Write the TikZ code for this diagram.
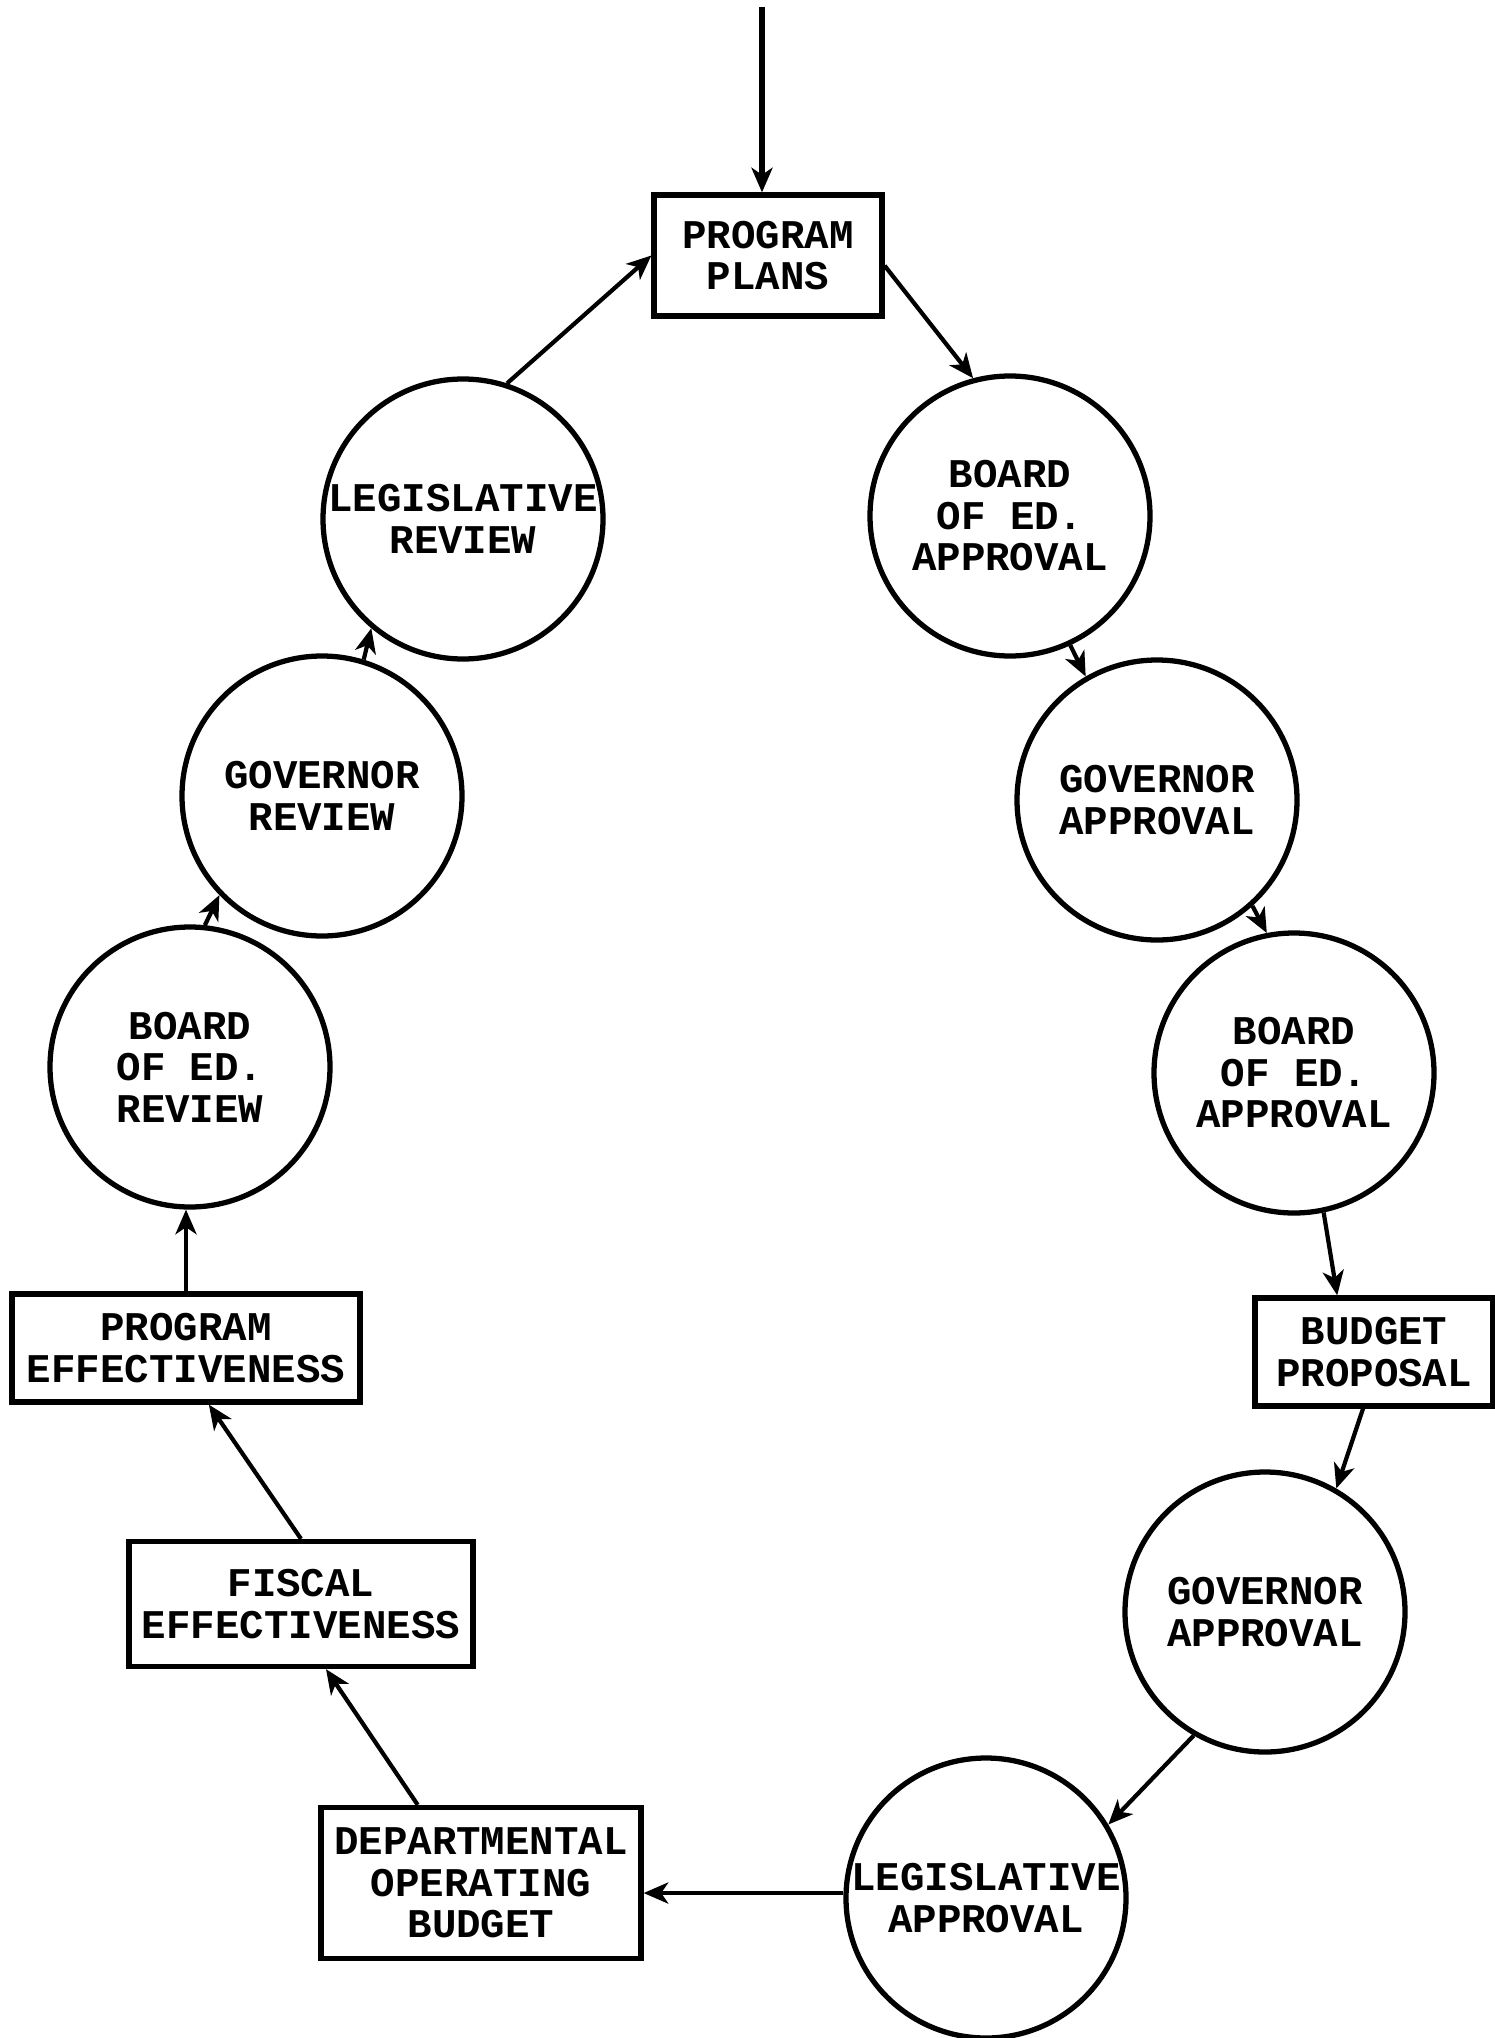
\documentclass[tikz,border=0pt]{standalone}
\usepackage{fontspec}
\usetikzlibrary{arrows.meta}
\setmonofont{Liberation Mono}

\begin{document}
\begin{tikzpicture}[>={Stealth[length=7pt,width=6pt,inset=2pt]}, line width=1.2pt,
                stage/.style={circle, draw, line width=1.5pt, minimum size=2.8cm, inner sep=0pt, align=center,
                    font=\ttfamily\bfseries\fontsize{11.6}{11.8}\selectfont},
                doc/.style={rectangle, draw, line width=1.5pt, inner sep=0pt, align=center,
                    font=\ttfamily\bfseries\fontsize{11.6}{11.8}\selectfont}
            ]
            \useasboundingbox (0,0) rectangle (14.94,-20.38);

            % Start of the cycle
            \node[doc, minimum width=2.28cm, minimum height=1.21cm] (PP) at (7.68,-2.555) {PROGRAM\\PLANS};
            \coordinate (start) at (7.62,-0.07);
            \draw[->, line width=1.5pt] (start) -- (start |- PP.north);

            % Approval side
            \node[stage] (B1) at (10.10,-5.16) {BOARD\\OF ED.\\APPROVAL};
            \node[stage] (G1) at (11.57,-8.00) {GOVERNOR\\APPROVAL};
            \node[stage] (B2) at (12.94,-10.73) {BOARD\\OF ED.\\APPROVAL};
            \node[doc, minimum width=2.38cm, minimum height=1.08cm] (BP) at (13.74,-13.52) {BUDGET\\PROPOSAL};
            \node[stage] (G2) at (12.65,-16.12) {GOVERNOR\\APPROVAL};
            \node[stage] (LA) at (9.86,-18.98) {LEGISLATIVE\\APPROVAL};

            % Operating budget and effectiveness
            \node[doc, minimum width=3.20cm, minimum height=1.51cm] (DOB) at (4.81,-18.83) {DEPARTMENTAL\\OPERATING\\BUDGET};
            \node[doc, minimum width=3.44cm, minimum height=1.25cm] (FE) at (3.01,-16.04) {FISCAL\\EFFECTIVENESS};
            \node[doc, minimum width=3.48cm, minimum height=1.08cm] (PE) at (1.86,-13.48) {PROGRAM\\EFFECTIVENESS};

            % Review side
            \node[stage] (BR) at (1.90,-10.67) {BOARD\\OF ED.\\REVIEW};
            \node[stage] (GR) at (3.22,-7.96) {GOVERNOR\\REVIEW};
            \node[stage] (LR) at (4.63,-5.19) {LEGISLATIVE\\REVIEW};

            % Flow
            \draw[->] (PP.-5) -- (B1.105);
            \draw[->] (B1.-65) -- (G1.120);
            \draw[->] (G1.-48) -- (B2.101);
            \draw[->] (B2.-78) -- (BP.123);
            \draw[->] (BP.-101) -- (G2.60);
            \draw[->] (G2.-120) -- (LA.31);
            \draw[->] (LA.178) -- (LA.178 -| DOB.east);
            \draw[->] (DOB.129) -- (FE.-69);
            \draw[->] (FE.north) -- (PE.-68);
            \draw[->] (PE.north) -- (PE.north |- BR.south);
            \draw[->] (BR.84) -- (GR.-136);
            \draw[->] (GR.73) -- (LR.-130);
            \draw[->] (LR.72) -- (PP.west);

        \end{tikzpicture}
\end{document}
